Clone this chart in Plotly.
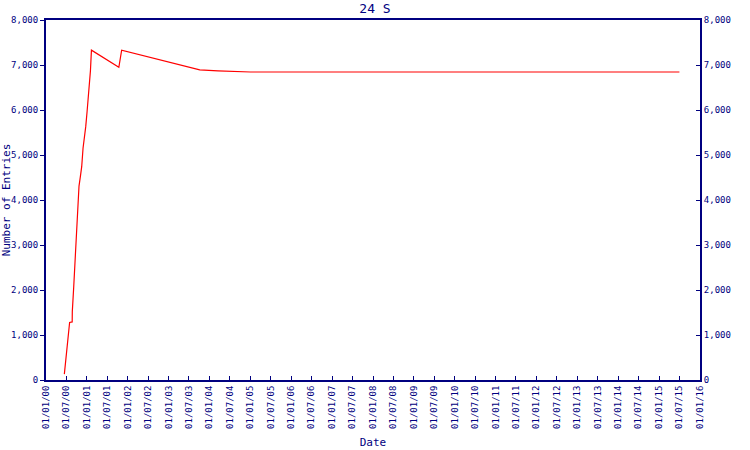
import plotly.graph_objects as go

dates = ["2000-06-13", "2000-06-24", "2000-07-05", "2000-07-18", "2000-07-30",
         "2000-08-22", "2000-08-23", "2000-09-04", "2000-09-16", "2000-09-28",
         "2000-10-10", "2000-10-22", "2000-11-03", "2000-11-15", "2000-11-27",
         "2000-12-09", "2000-12-21", "2001-01-02", "2001-01-14", "2001-01-26",
         "2001-02-01", "2001-02-10", "2001-10-13", "2001-11-07", "2003-10-06",
         "2004-03-17", "2005-01-01", "2015-07-01"]
entries = [130, 410, 680, 1070, 1280,
           1290, 1520, 2040, 2670, 3300,
           3890, 4310, 4520, 4740, 5150,
           5370, 5630, 5960, 6260, 6560,
           6870, 7330, 6950, 7330, 6890,
           6870, 6845, 6845]

title = "24 S"
x_title = "Date"
y_title = "Number of Entries"

navy = "#000080"
font = dict(family="DejaVu Sans Mono", size=9, color=navy)

fig = go.Figure()
fig.add_trace(go.Scatter(x=dates, y=entries, mode="lines",
                         line=dict(color="#ff0000", width=1.2),
                         showlegend=False, hoverinfo="skip"))
fig.add_trace(go.Scatter(x=dates, y=entries, mode="lines", yaxis="y2",
                         line=dict(color="rgba(0,0,0,0)", width=0),
                         showlegend=False, hoverinfo="skip"))

fig.update_layout(
    width=750, height=450,
    margin=dict(l=46, r=50, t=20, b=70),
    paper_bgcolor="white", plot_bgcolor="white",
    title=dict(text=title, x=0.5, xanchor="center", y=0.982, yanchor="middle",
               font=dict(family="DejaVu Sans Mono", size=13, color=navy),
               automargin=False),
    xaxis=dict(type="date", range=["2000-01-01", "2016-01-01"], automargin=False,
               tick0="2000-01-01", dtick="M6", tickformat="%d/%m/%y",
               tickangle=-90, tickfont=font, ticks="inside", ticklen=4,
               tickcolor=navy, showgrid=False, zeroline=False,
               showline=True, linecolor=navy, linewidth=2, mirror=True,
               title=dict(text=x_title, font=dict(family="DejaVu Sans Mono", size=11, color=navy),
                          standoff=10)),
    yaxis=dict(range=[0, 8000], dtick=1000, tickformat=",", tickfont=font, automargin=False,
               ticks="outside", ticklen=4, tickcolor=navy, showgrid=False,
               zeroline=False, showline=True, linecolor=navy, linewidth=2,
               title=dict(text=y_title, font=dict(family="DejaVu Sans Mono", size=11, color=navy),
                          standoff=4)),
    yaxis2=dict(range=[0, 8000], dtick=1000, tickformat=",", tickfont=font, automargin=False,
                overlaying="y", side="right", anchor="x",
                ticks="inside", ticklen=4, tickcolor=navy, showgrid=False,
                zeroline=False, showline=True, linecolor=navy, linewidth=2),
)

fig.write_html("out.html", config={"displayModeBar": False},
               post_script="document.body.style.margin='0';")
